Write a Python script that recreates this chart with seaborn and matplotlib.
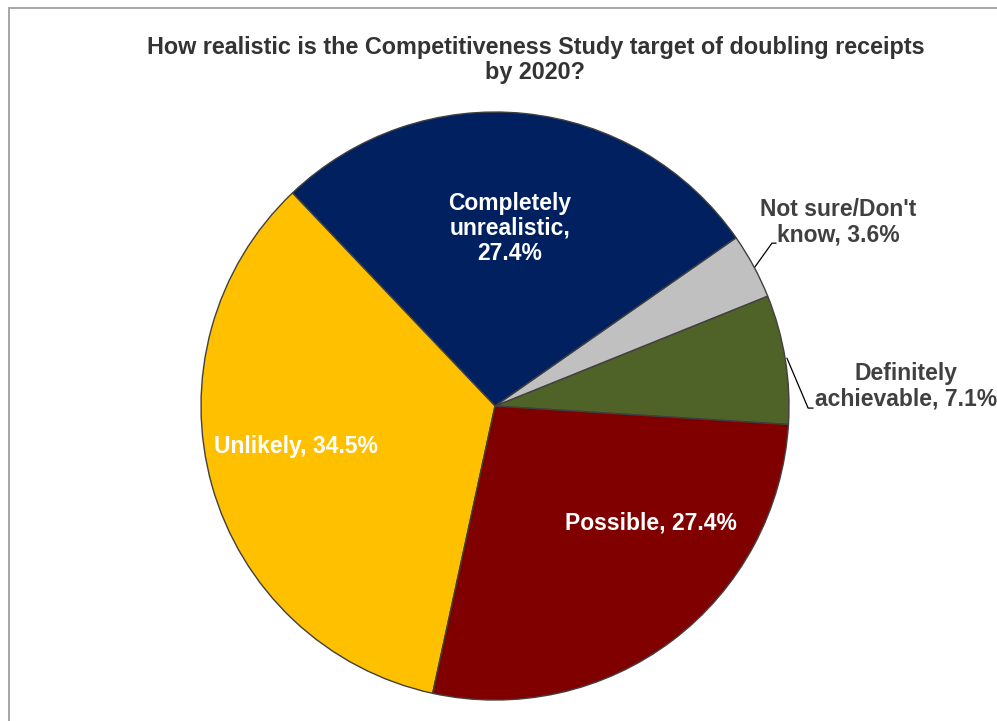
import matplotlib
matplotlib.use("Agg")
import matplotlib.pyplot as plt
import seaborn as sns
from matplotlib.patches import Rectangle

sns.set_theme(style="white")
plt.rcParams["font.family"] = ["Liberation Sans", "DejaVu Sans"]

# Survey responses, in drawing order (counter-clockwise from just below 3 o'clock)
categories = ["Definitely\nachievable", "Not sure/Don't\nknow", "Completely\nunrealistic,",
              "Unlikely", "Possible"]
shares = [7.1, 3.6, 27.4, 34.5, 27.4]
colors = ["#4F6228", "#C0C0C0", "#002060", "#FFC000", "#800000"]
title = "How realistic is the Competitiveness Study target of doubling receipts\nby 2020?"

fig = plt.figure(figsize=(9.97, 7.21), dpi=100)
fig.patch.set_facecolor("white")

# outer chart-area frame (only left and top edges fall inside the canvas)
fig.add_artist(Rectangle((9 / 997, -0.1), 1.2, 1.1 - 8 / 721,
                         transform=fig.transFigure, fill=False,
                         edgecolor="#A6A6A6", linewidth=1.4))

ax = fig.add_axes([0.2016, 0.0291, 0.5898, 0.8155])
start = -3.6
ax.pie(shares, colors=colors, startangle=start, counterclock=True, radius=1.0,
       wedgeprops=dict(edgecolor="#404040", linewidth=1.0))
ax.set_xlim(-1, 1)
ax.set_ylim(-1, 1)
ax.set_aspect("equal")
ax.axis("off")

lab = dict(fontsize=16.5, fontweight="bold", ha="center", va="center", linespacing=1.12)

# inside labels
ax.text(0.051, 0.605, f"Completely\nunrealistic,\n{shares[2]}%", color="white", **lab)
ax.text(-0.677, -0.139, f"Unlikely, {shares[3]}%", color="white", **lab)
ax.text(0.531, -0.398, f"Possible, {shares[4]}%", color="white", **lab)

# outside labels with leader lines
ax.text(1.167, 0.626, f"Not sure/Don't\nknow, {shares[1]}%", color="#404040", clip_on=False, **lab)
ax.text(1.398, 0.068, f"Definitely\nachievable, {shares[0]}%", color="#404040", clip_on=False, **lab)
ax.plot([0.884, 0.942, 0.956], [0.473, 0.554, 0.554], color="#000000", lw=0.9, clip_on=False)
ax.plot([0.993, 1.065, 1.082], [0.163, -0.007, -0.007], color="#000000", lw=0.9, clip_on=False)

fig.text(0.537, 1 - 60 / 721, title, ha="center", va="center", fontsize=16.8,
         fontweight="bold", color="#333333", linespacing=1.12)

fig.savefig("out.png", dpi=100, facecolor="white")
